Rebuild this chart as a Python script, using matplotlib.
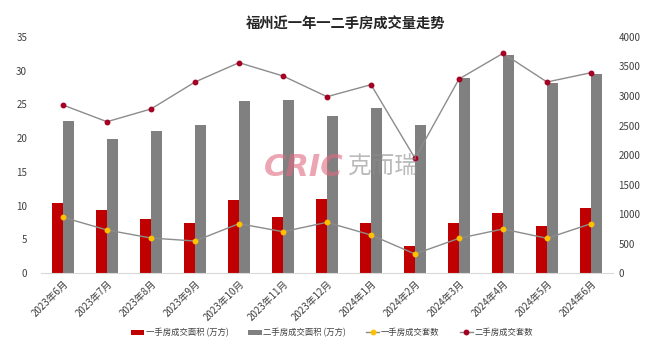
import matplotlib
matplotlib.use("Agg")
import matplotlib.pyplot as plt
import numpy as np

plt.rcParams['font.family'] = ['Noto Sans CJK SC', 'DejaVu Sans']

months = ["2023年6月", "2023年7月", "2023年8月", "2023年9月", "2023年10月", "2023年11月",
          "2023年12月", "2024年1月", "2024年2月", "2024年3月", "2024年4月", "2024年5月", "2024年6月"]
new_area = [10.4, 9.35, 7.96, 7.47, 10.9, 8.26, 10.97, 7.47, 4.05, 7.47, 8.85, 6.97, 9.7]
second_area = [22.55, 19.9, 21.1, 21.96, 25.5, 25.6, 23.3, 24.4, 22.0, 28.9, 32.4, 28.2, 29.5]
new_units = [944, 729, 593, 542, 836, 700, 859, 644, 322, 588, 746, 588, 836]
second_units = [2847, 2564, 2780, 3237, 3565, 3339, 2988, 3192, 1944, 3288, 3723, 3237, 3395]

title = "福州近一年一二手房成交量走势"
labels = ["一手房成交面积 (万方)", "二手房成交面积 (万方)", "一手房成交套数", "二手房成交套数"]

fig = plt.figure(figsize=(6.6, 3.51), dpi=100)
ax = fig.add_axes([0.0621, 0.2222, 0.8667, 0.6724])
ax2 = ax.twinx()

x = np.arange(len(months))
w = 0.245
b1 = ax.bar(x - w / 2, new_area, width=w, color="#C00000", label=labels[0], zorder=2)
b2 = ax.bar(x + w / 2, second_area, width=w, color="#808080", label=labels[1], zorder=2)
l1, = ax2.plot(x, new_units, color="#8c8c8c", lw=1.0, marker="o", ms=3.2,
               mfc="#FFC000", mec="#FFC000", label=labels[2], zorder=3)
l2, = ax2.plot(x, second_units, color="#8c8c8c", lw=1.0, marker="o", ms=3.2,
               mfc="#A50021", mec="#A50021", label=labels[3], zorder=3)

ax.set_xlim(-0.5, len(months) - 0.5)
ax.set_ylim(0, 35)
ax2.set_ylim(0, 4000)
ax.set_yticks(np.arange(0, 36, 5))
ax2.set_yticks(np.arange(0, 4001, 500))

for a in (ax, ax2):
    for s in a.spines.values():
        s.set_visible(False)
    a.tick_params(length=0, labelsize=7, colors="#404040")
ax.spines['bottom'].set_visible(True)
ax.spines['bottom'].set_color("#d9d9d9")
ax.tick_params(axis='y', pad=10)
ax2.tick_params(axis='y', pad=4)

ax.set_xticks(x)
ax.set_xticklabels(months, rotation=45, ha='right', rotation_mode='anchor', fontsize=7, color="#404040")
ax.tick_params(axis='x', pad=4)

fig.text(0.524, 0.930, title, ha='center', va='center', fontsize=10.3, fontweight='bold', color="#262626")

# watermark
fig.text(0.520, 0.524, "CRIC", ha='right', va='center', fontsize=22, fontweight='heavy',
         style='italic', family='DejaVu Sans', color="#e06a80", alpha=0.6, zorder=5)
fig.text(0.526, 0.524, "克而瑞", ha='left', va='center', fontsize=17,
         color="#8c8c8c", alpha=0.6, zorder=5)

fig.legend(handles=[b1, b2, l1, l2], labels=labels, loc='center', bbox_to_anchor=(0.503, 0.052),
           ncol=4, frameon=False, fontsize=6, handlelength=1.6, handletextpad=0.2,
           columnspacing=2.4, labelcolor="#404040")

fig.savefig("out.png", dpi=100)
